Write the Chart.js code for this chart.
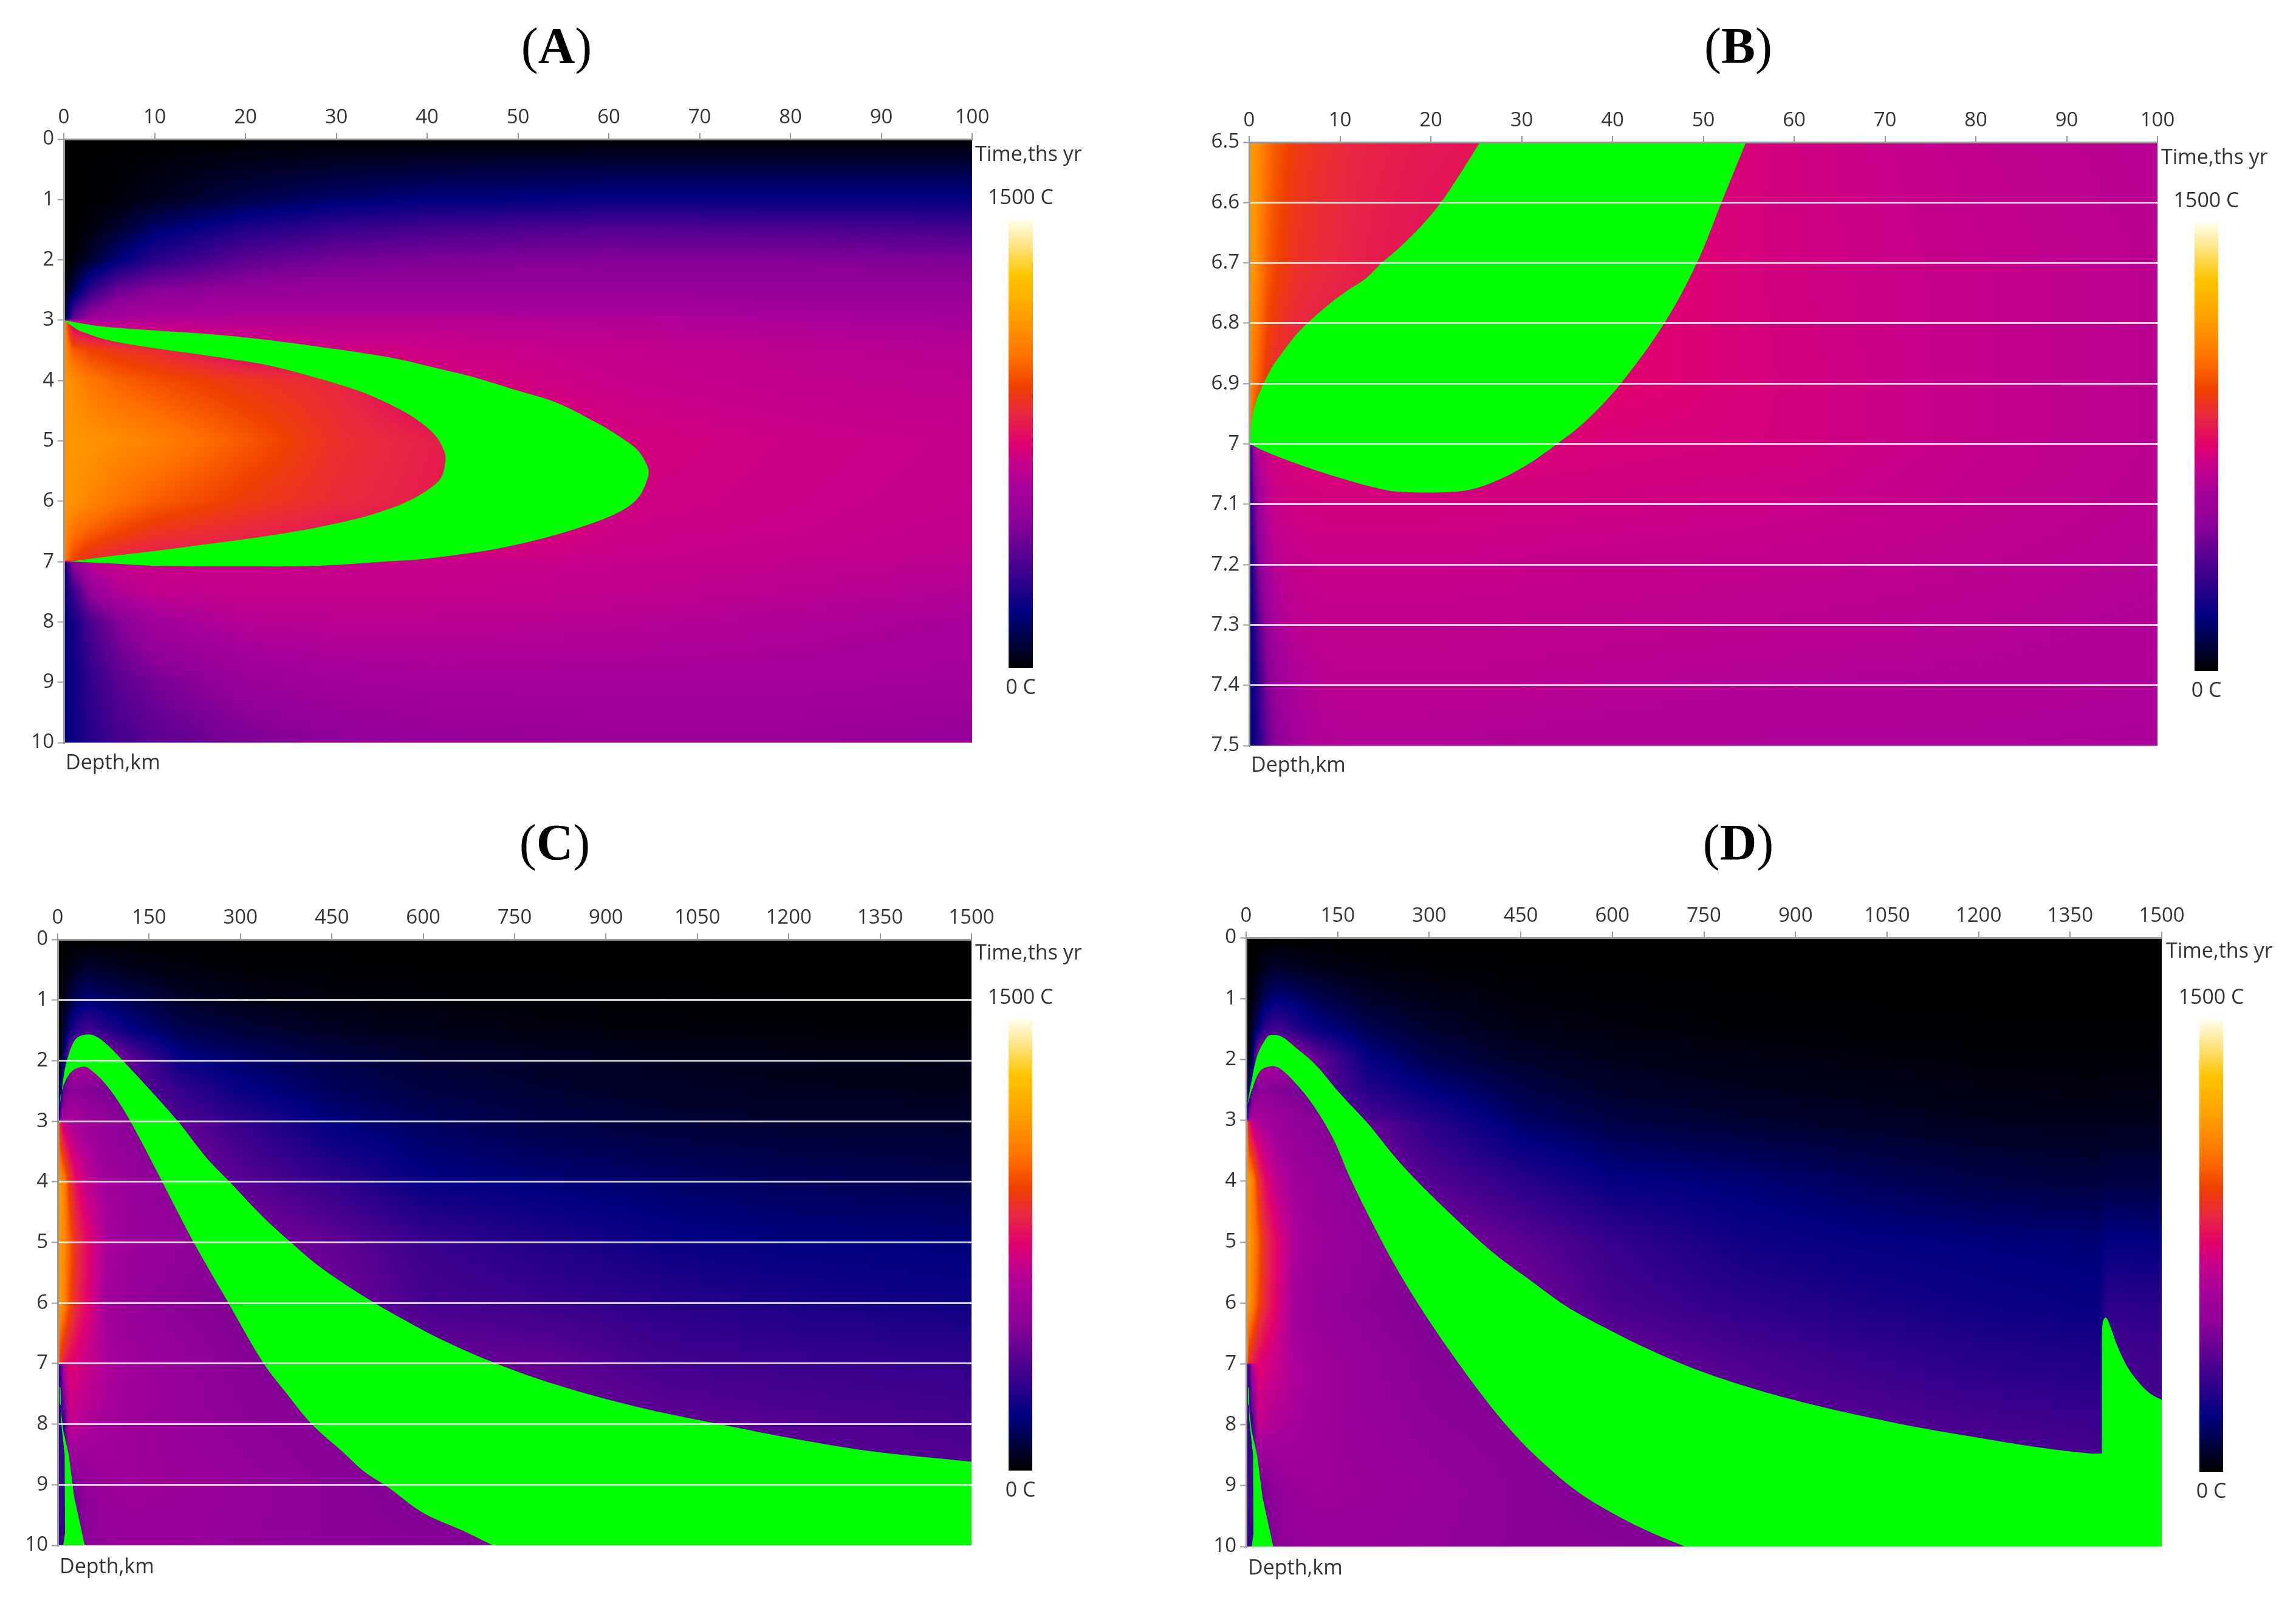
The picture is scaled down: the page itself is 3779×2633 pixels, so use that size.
<!DOCTYPE html>
<html>
<head>
<meta charset="utf-8">
<title>Temperature maps</title>
<script src="https://cdn.jsdelivr.net/npm/chart.js@4"></script>
<style>
  html, body { margin: 0; background: #fff; }
  canvas { position: absolute; }
</style>
</head>
<body>
<script>
// colour bar, value in C -> colour
const paletteValues = [0, 180, 350, 490, 600, 690, 750, 850, 940, 1040, 1155, 1310, 1500];
const paletteColors = ["#000000", "#000080", "#4b0090", "#8c0098", "#a8009a", "#c8008a", "#e0006f", "#e82840", "#f04000", "#ff7000", "#ff9800", "#ffc400", "#fffff0"];

const tempLabels = { top: "1500 C", bottom: "0 C" };
const axisLabels = { time: "Time,ths yr", depth: "Depth,km" };

const ticksKm100 = 10;
const ticksKm1500 = 150;

// ---- panel A ----
const depthsA = [0, 1, 3, 6, 10, 20, 30, 40, 60, 80, 100];
const timesA = [0, 0.5, 1, 1.5, 2, 2.5, 2.98, 3.02, 3.5, 4, 5, 6, 6.5, 6.98, 7.02, 7.5, 8, 9, 10];
const tempsA = [
  [0, 0, 0, 0, 0, 0, 0, 0, 0, 0, 0],
  [0, 0, 5, 10, 20, 50, 70, 85, 100, 100, 100],
  [0, 0, 5, 15, 40, 105, 150, 175, 190, 190, 190],
  [0, 0, 20, 70, 150, 250, 310, 340, 370, 360, 340],
  [0, 10, 70, 170, 270, 390, 440, 460, 470, 470, 460],
  [0, 100, 280, 420, 480, 520, 530, 530, 530, 530, 520],
  [0, 400, 560, 600, 620, 630, 630, 630, 620, 600, 590],
  [1150, 700, 640, 640, 640, 640, 640, 640, 630, 610, 595],
  [1150, 1000, 940, 900, 870, 740, 710, 700, 680, 660, 640],
  [1150, 1120, 1060, 1010, 970, 900, 850, 730, 690, 670, 655],
  [1150, 1150, 1140, 1120, 1090, 990, 880, 830, 720, 700, 685],
  [1150, 1140, 1100, 1050, 1000, 920, 860, 820, 710, 695, 680],
  [1120, 1050, 1000, 950, 900, 850, 800, 780, 700, 690, 670],
  [1100, 950, 870, 830, 800, 790, 770, 700, 690, 680, 660],
  [150, 500, 660, 690, 690, 690, 690, 690, 680, 670, 650],
  [180, 300, 520, 630, 670, 680, 680, 680, 670, 650, 630],
  [180, 220, 350, 470, 580, 640, 650, 650, 640, 620, 600],
  [190, 200, 290, 380, 440, 540, 580, 590, 590, 590, 580],
  [190, 210, 270, 330, 380, 450, 500, 530, 550, 550, 530]
];
const bandA = [[0, 3], [0.8, 3.02], [4, 3.1], [10, 3.17], [16, 3.23], [22, 3.32], [30, 3.48], [36.5, 3.635], [40.9, 3.79], [45.4, 3.955], [49.8, 4.16], [54.3, 4.37],
  [58.8, 4.71], [61, 4.91], [63.2, 5.16], [64.3, 5.44], [64.3, 5.61], [63.2, 5.95], [61, 6.19], [56.5, 6.45], [52.1, 6.64], [47.6, 6.79], [43.2, 6.89], [38.7, 6.97], [36.5, 6.99],
  [28, 7.07], [20, 7.08], [10, 7.07], [5, 7.03], [0.6, 7], [0.6, 7],
  [4.6, 6.92], [10.3, 6.82], [16.4, 6.7], [22.6, 6.57], [27.7, 6.44], [32.8, 6.27], [36.5, 6.09], [37.6, 6.02], [39.8, 5.84], [41.5, 5.62], [42, 5.35], [41.9, 5.18], [40.9, 4.91], [38.7, 4.63], [36.5, 4.44],
  [32.8, 4.19], [27.7, 3.95], [22.6, 3.75], [16.4, 3.6], [10.3, 3.47], [4.6, 3.32], [1.6, 3.17]];

// ---- panel B ----
const depthsB = [0, 0.5, 1, 2, 3, 5, 8, 12, 20, 30, 40, 50, 60, 80, 100];
const timesB = [6.5, 6.7, 6.9, 6.995, 7.005, 7.1, 7.2, 7.3, 7.4, 7.5];
const tempsB = [
  [1150, 1150, 1120, 1040, 990, 920, 880, 840, 810, 790, 770, 740, 710, 670, 640],
  [1150, 1150, 1100, 1000, 950, 890, 860, 830, 790, 770, 760, 735, 710, 680, 650],
  [1150, 1050, 1000, 900, 860, 830, 800, 780, 770, 760, 750, 735, 715, 680, 650],
  [1100, 950, 850, 810, 790, 770, 750, 740, 740, 740, 730, 725, 715, 680, 650],
  [130, 550, 650, 700, 720, 730, 735, 735, 735, 730, 725, 720, 715, 680, 650],
  [160, 400, 550, 650, 690, 710, 715, 715, 715, 710, 705, 700, 695, 670, 645],
  [160, 300, 470, 600, 650, 680, 690, 690, 690, 685, 680, 675, 670, 655, 635],
  [170, 250, 370, 530, 600, 650, 670, 670, 670, 665, 660, 655, 650, 640, 625],
  [170, 220, 300, 460, 550, 610, 645, 650, 650, 645, 640, 635, 630, 625, 615],
  [180, 210, 270, 400, 490, 580, 625, 630, 630, 625, 620, 615, 610, 610, 605]
];
const bandB = [[25.4, 6.5], [23.5, 6.546], [21.1, 6.6], [19, 6.638], [16.6, 6.674], [14.6, 6.7], [12.9, 6.725], [10.8, 6.746], [9, 6.766], [6.4, 6.8],
  [5, 6.822], [3.3, 6.856], [2.5, 6.873], [1.6, 6.9], [0.75, 6.93], [0.3, 6.96], [0.1, 7], [0.1, 7], [1.1, 7.008], [4, 7.026], [7.4, 7.044], [10.8, 7.06], [13.2, 7.07],
  [16.3, 7.079], [22.8, 7.079], [25.9, 7.069], [30, 7.04], [33.9, 7], [37.2, 6.96], [40.9, 6.9], [45.7, 6.8], [49.3, 6.7], [52, 6.6], [54.7, 6.5]];

// ---- panel C ----
const depthsC = [0, 5, 10, 20, 30, 50, 80, 120, 200, 300, 450, 600, 800, 1000, 1200, 1500];
const timesC = [0, 0.5, 1, 1.5, 2, 2.5, 2.98, 3.02, 4, 5, 6, 6.98, 7.02, 8, 9, 10];
const tempsC = [
  [0, 0, 0, 0, 0, 0, 0, 0, 0, 0, 0, 0, 0, 0, 0, 0],
  [0, 0, 10, 25, 50, 70, 55, 40, 22, 12, 7, 4, 2, 1, 1, 0],
  [0, 5, 25, 80, 130, 165, 140, 110, 60, 35, 22, 15, 10, 7, 5, 4],
  [0, 20, 70, 180, 280, 330, 260, 190, 115, 80, 50, 35, 22, 15, 12, 10],
  [0, 40, 130, 600, 620, 600, 560, 400, 200, 150, 100, 70, 55, 42, 35, 30],
  [0, 150, 420, 480, 490, 470, 450, 400, 300, 200, 130, 95, 70, 55, 45, 40],
  [0, 500, 600, 610, 600, 550, 510, 480, 350, 280, 170, 130, 95, 75, 65, 60],
  [1150, 800, 680, 620, 590, 550, 510, 480, 400, 300, 175, 132, 97, 77, 66, 61],
  [1150, 1150, 1100, 900, 780, 660, 570, 530, 480, 380, 290, 190, 165, 145, 125, 110],
  [1150, 1150, 1120, 1000, 880, 760, 610, 550, 510, 470, 400, 310, 250, 200, 180, 170],
  [1150, 1150, 1100, 960, 860, 750, 580, 530, 490, 460, 440, 340, 310, 270, 240, 210],
  [1100, 900, 830, 760, 730, 680, 600, 560, 520, 480, 450, 420, 400, 330, 310, 290],
  [300, 320, 640, 760, 730, 690, 620, 570, 520, 480, 450, 420, 400, 330, 310, 290],
  [270, 290, 300, 680, 650, 620, 590, 560, 530, 500, 475, 450, 430, 400, 370, 340],
  [310, 310, 310, 400, 460, 510, 550, 560, 550, 525, 490, 460, 440, 420, 400, 380],
  [300, 300, 310, 320, 420, 480, 520, 530, 530, 515, 490, 480, 460, 440, 420, 400]
];
const bandC = [[2.7, 2.79], [6.5, 2.5], [12, 2.13], [20, 1.84], [29, 1.65], [41, 1.58], [58, 1.58], [77, 1.7], [107, 2], [153, 2.5], [198, 3.01], [244, 3.6],
  [286, 4.04], [335, 4.56], [384, 5.01], [430, 5.4], [504, 5.9], [567, 6.27], [631, 6.61], [720, 7], [822, 7.36], [949, 7.71], [1076, 7.98], [1203, 8.23], [1330, 8.44], [1500, 8.62], [1500, 8.62],
  [1500, 10], [1500, 10], [714, 10], [714, 10], [663, 9.75], [599, 9.46], [542, 9.04], [504, 8.79], [468, 8.46], [418, 8.01], [373, 7.46], [335, 6.95], [278, 5.96], [221, 4.96], [168, 3.93],
  [130, 3.2], [107, 2.79], [77, 2.37], [50, 2.12], [41, 2.1], [24, 2.17], [12, 2.35], [4.6, 2.57]];
const wedgeC = [[3.2, 7.39], [4.6, 7.39], [5.5, 7.8], [9, 8.1], [18, 8.5], [27, 9.2], [44.4, 10], [9, 10], [12, 9.8], [11.4, 8.5], [7, 8.1], [5, 7.9], [5, 7.7], [3.2, 7.65]];

// ---- panel D ----
const depthsD = [0, 5, 10, 20, 30, 50, 80, 120, 200, 300, 450, 600, 800, 1000, 1200, 1398, 1410, 1500];
const timesD = [0, 0.5, 1, 1.5, 2, 2.5, 2.98, 3.02, 4, 5, 6, 6.98, 7.02, 8, 9, 10];
const tempsD = [
  [0, 0, 0, 0, 0, 0, 0, 0, 0, 0, 0, 0, 0, 0, 0, 0, 0, 0],
  [0, 0, 5, 20, 40, 60, 50, 35, 20, 10, 5, 3, 0, 0, 0, 0, 0, 0],
  [0, 5, 20, 70, 120, 175, 150, 110, 60, 35, 15, 10, 5, 3, 3, 3, 3, 3],
  [0, 20, 60, 170, 280, 330, 260, 190, 115, 65, 30, 20, 10, 8, 5, 5, 5, 5],
  [0, 40, 120, 600, 620, 600, 560, 400, 190, 110, 60, 40, 28, 20, 15, 14, 15, 15],
  [0, 150, 420, 480, 490, 470, 450, 400, 260, 180, 100, 60, 45, 35, 25, 20, 22, 22],
  [0, 500, 600, 610, 600, 550, 510, 480, 350, 260, 140, 95, 70, 55, 42, 38, 40, 40],
  [1150, 800, 680, 620, 590, 550, 510, 480, 400, 270, 145, 97, 72, 56, 43, 39, 41, 41],
  [1150, 1150, 1100, 900, 780, 660, 570, 530, 480, 370, 270, 190, 165, 130, 100, 85, 95, 95],
  [1150, 1150, 1120, 1000, 880, 760, 610, 550, 510, 470, 390, 300, 220, 190, 175, 165, 185, 180],
  [1150, 1150, 1100, 960, 860, 750, 580, 530, 490, 460, 440, 340, 280, 240, 210, 190, 280, 270],
  [1100, 900, 830, 760, 730, 680, 600, 560, 520, 480, 450, 420, 360, 310, 270, 250, 350, 320],
  [300, 320, 640, 760, 730, 690, 620, 570, 520, 480, 450, 420, 360, 310, 270, 250, 350, 320],
  [270, 290, 300, 680, 650, 620, 590, 560, 530, 500, 475, 440, 410, 380, 340, 310, 340, 340],
  [310, 310, 310, 400, 460, 510, 550, 560, 550, 525, 490, 460, 440, 420, 400, 380, 380, 380],
  [300, 300, 310, 320, 420, 480, 520, 530, 530, 515, 490, 480, 460, 440, 420, 400, 400, 400]
];
const bandD = [[2, 2.75], [9, 2.35], [18.5, 1.93], [33, 1.65], [40, 1.6], [57, 1.62], [80.5, 1.8], [114, 2.09], [152, 2.54], [200, 3.06], [247, 3.64], [295, 4.15], [352, 4.7], [409, 5.21],
  [466, 5.63], [524, 6.05], [581, 6.37], [657, 6.75], [734, 7.08], [829, 7.4], [924, 7.66], [1020, 7.88], [1115, 8.07], [1210, 8.23], [1305, 8.38], [1382, 8.47], [1403, 8.47], [1403, 8.47],
  [1403, 10], [1403, 10], [719, 10], [719, 10], [657, 9.74], [600, 9.45], [543, 9.1], [486, 8.62], [438, 8.14], [390, 7.56], [333, 6.78], [286, 6.08], [247, 5.44], [209, 4.73], [171, 3.96],
  [143, 3.31], [109, 2.74], [80, 2.38], [57, 2.16], [42, 2.11], [23, 2.19], [9, 2.51]];
const spikeD = [[1402, 8.47], [1402, 8.47], [1402, 6.52], [1402, 6.52], [1404, 6.29], [1409, 6.24], [1417, 6.42], [1427, 6.7], [1441, 7], [1457, 7.24], [1480, 7.48], [1500, 7.59], [1500, 7.59],
  [1500, 10], [1500, 10], [1402, 10], [1402, 10]];
const wedgeD = [[3.2, 7.39], [4.6, 7.39], [5.5, 7.8], [9, 8.1], [18, 8.5], [27, 9.2], [44.4, 10], [9, 10], [12, 9.8], [11.4, 8.5], [7, 8.1], [5, 7.9], [5, 7.7], [3.2, 7.65]];
const sliverD = [[1402, 6.87], [1408, 6.87], [1408, 7.68], [1402, 7.68]];

const GREEN = "#00ff00";
const TICK_GREY = "#9a9a9a";
const TEXT = "#333";
const FONT = '"Open Sans"';

function hexRgb(h) {
  return [parseInt(h.slice(1, 3), 16), parseInt(h.slice(3, 5), 16), parseInt(h.slice(5, 7), 16)];
}

// lookup table for colours, one entry per degree
const lut = [];
(function () {
  const rgb = paletteColors.map(hexRgb);
  let k = 0;
  for (let v = 0; v <= 1500; v++) {
    while (k < paletteValues.length - 2 && v > paletteValues[k + 1]) k++;
    const f = (v - paletteValues[k]) / (paletteValues[k + 1] - paletteValues[k]);
    lut.push([0, 1, 2].map((i) => rgb[k][i] + (rgb[k + 1][i] - rgb[k][i]) * f));
  }
})();

function findCell(list, v) {
  let i = 0;
  while (i < list.length - 2 && v > list[i + 1]) i++;
  const f = (v - list[i]) / (list[i + 1] - list[i]);
  return [i, Math.min(1, Math.max(0, f))];
}

// paints the temperature cells, goes through the chart's own scales pixel by pixel
const heatmapPlugin = {
  id: "heatmap",
  beforeDatasetsDraw(chart, args, opts) {
    const { ctx, chartArea, scales } = chart;
    const left = Math.round(chartArea.left);
    const top = Math.round(chartArea.top);
    const w = Math.round(chartArea.right) - left;
    const h = Math.round(chartArea.bottom) - top;
    const img = ctx.createImageData(w, h);
    const cols = [];
    for (let px = 0; px < w; px++) cols.push(findCell(opts.depths, scales.x.getValueForPixel(left + px + 0.5)));
    for (let py = 0; py < h; py++) {
      const [r, fy] = findCell(opts.times, scales.y.getValueForPixel(top + py + 0.5));
      const row0 = opts.temps[r];
      const row1 = opts.temps[r + 1];
      for (let px = 0; px < w; px++) {
        const [c, fx] = cols[px];
        const a = row0[c] + (row0[c + 1] - row0[c]) * fx;
        const b = row1[c] + (row1[c + 1] - row1[c]) * fx;
        const col = lut[Math.round(a + (b - a) * fy)];
        const o = (py * w + px) * 4;
        img.data[o] = col[0];
        img.data[o + 1] = col[1];
        img.data[o + 2] = col[2];
        img.data[o + 3] = 255;
      }
    }
    ctx.putImageData(img, left, top);
  }
};

// title, colour bar and the small labels around the plot
const extrasPlugin = {
  id: "extras",
  afterDraw(chart, args, opts) {
    const { ctx, chartArea } = chart;
    ctx.save();
    // title, letter is bold, brackets are not
    ctx.fillStyle = "#000";
    ctx.textBaseline = "middle";
    ctx.textAlign = "left";
    const reg = '84px "Liberation Serif"';
    const bold = 'bold 84px "Liberation Serif"';
    ctx.font = reg;
    const wb = ctx.measureText("(").width;
    ctx.font = bold;
    const wl = ctx.measureText(opts.letter).width;
    let tx = opts.titleX - (wb * 2 + wl) / 2;
    ctx.font = reg;
    ctx.fillText("(", tx, opts.titleY);
    ctx.font = bold;
    ctx.fillText(opts.letter, tx + wb, opts.titleY);
    ctx.font = reg;
    ctx.fillText(")", tx + wb + wl, opts.titleY);

    // colour bar
    const bar = opts.bar;
    const g = ctx.createLinearGradient(0, bar.bottom, 0, bar.top);
    paletteValues.forEach((v, i) => g.addColorStop(v / 1500, paletteColors[i]));
    ctx.fillStyle = g;
    ctx.fillRect(bar.left, bar.top, bar.right - bar.left, bar.bottom - bar.top);

    ctx.fillStyle = TEXT;
    ctx.font = "34px " + FONT;
    ctx.textAlign = "center";
    const cx = (bar.left + bar.right) / 2;
    ctx.fillText(tempLabels.top, cx, bar.top - 35);
    ctx.fillText(tempLabels.bottom, cx, bar.bottom + 33);
    ctx.textAlign = "left";
    ctx.fillText(axisLabels.time, opts.timeX, chartArea.top + opts.timeDy);
    ctx.fillText(axisLabels.depth, chartArea.left + 3, chartArea.bottom + opts.depthDy);
    ctx.restore();
  }
};

function polygon(points, color, tension) {
  return {
    data: points.map((p) => ({ x: p[0], y: p[1] })),
    borderWidth: 0,
    pointRadius: 0,
    backgroundColor: color,
    fill: "shape",
    tension: tension
  };
}

function drawPanel(p) {
  const canvas = document.createElement("canvas");
  canvas.width = p.box.w;
  canvas.height = p.box.h;
  canvas.style.left = p.box.x + "px";
  canvas.style.top = p.box.y + "px";
  document.body.appendChild(canvas);

  const xAxisH = 70;
  const yAxisW = 80;
  const labelFmt = (v) => String(+Number(v).toFixed(1));

  new Chart(canvas, {
    type: "line",
    data: { datasets: p.polys },
    plugins: [heatmapPlugin, extrasPlugin],
    options: {
      responsive: false,
      animation: false,
      events: [],
      layout: {
        padding: {
          left: p.plot.left - p.box.x - yAxisW,
          top: p.plot.top - p.box.y - xAxisH,
          right: p.box.x + p.box.w - p.plot.right,
          bottom: p.box.y + p.box.h - p.plot.bottom
        }
      },
      plugins: {
        legend: { display: false },
        tooltip: { enabled: false },
        heatmap: { depths: p.depths, times: p.times, temps: p.temps },
        extras: {
          letter: p.letter,
          titleX: p.titleX - p.box.x,
          titleY: p.titleY - p.box.y,
          timeX: p.timeX - p.box.x,
          timeDy: p.timeDy,
          depthDy: p.depthDy,
          bar: {
            left: p.bar.left - p.box.x,
            right: p.bar.right - p.box.x,
            top: p.bar.top - p.box.y,
            bottom: p.bar.bottom - p.box.y
          }
        }
      },
      scales: {
        x: {
          type: "linear",
          position: "top",
          min: 0,
          max: p.xMax,
          afterFit: (s) => { s.height = xAxisH; },
          border: { color: TICK_GREY, width: 3, z: 1 },
          grid: { drawOnChartArea: false, color: TICK_GREY, lineWidth: 2, tickLength: 10 },
          ticks: { stepSize: p.xStep, autoSkip: false, maxRotation: 0, color: TEXT, padding: 6, font: { family: FONT, size: 33 }, callback: labelFmt }
        },
        y: {
          type: "linear",
          reverse: true,
          min: p.yMin,
          max: p.yMax,
          afterFit: (s) => { s.width = yAxisW; },
          // border has to sit on the same layer as the grid or it ends up at x=0
          border: { color: TICK_GREY, width: 3, z: 1 },
          grid: {
            z: 1,
            drawOnChartArea: p.whiteLines,
            lineWidth: 3,
            tickLength: 10,
            tickColor: TICK_GREY,
            tickWidth: 2,
            color: (c) => (c.tick && (c.tick.value === p.yMin || c.tick.value === p.yMax) ? "rgba(255,255,255,0)" : "rgba(255,255,255,0.8)")
          },
          ticks: { stepSize: p.yStep, autoSkip: false, color: TEXT, padding: 6, font: { family: FONT, size: 33 }, callback: labelFmt }
        }
      }
    }
  });
}

const panels = [
  {
    letter: "A", box: { x: 0, y: 0, w: 1890, h: 1316 }, plot: { left: 105, right: 1600, top: 229, bottom: 1222 },
    bar: { left: 1660, right: 1700, top: 361, bottom: 1099 }, titleX: 916, titleY: 82, timeX: 1605, timeDy: 26, depthDy: 34,
    depths: depthsA, times: timesA, temps: tempsA, polys: [polygon(bandA, GREEN, 0.35)],
    xMax: 100, xStep: ticksKm100, yMin: 0, yMax: 10, yStep: 1, whiteLines: false
  },
  {
    letter: "B", box: { x: 1890, y: 0, w: 1889, h: 1316 }, plot: { left: 2056, right: 3551, top: 234, bottom: 1227 },
    bar: { left: 3612, right: 3651, top: 366, bottom: 1104 }, titleX: 2861, titleY: 82, timeX: 3557, timeDy: 26, depthDy: 33,
    depths: depthsB, times: timesB, temps: tempsB, polys: [polygon(bandB, GREEN, 0.35)],
    xMax: 100, xStep: ticksKm100, yMin: 6.5, yMax: 7.5, yStep: 0.1, whiteLines: true
  },
  {
    letter: "C", box: { x: 0, y: 1316, w: 1890, h: 1317 }, plot: { left: 95, right: 1599, top: 1546, bottom: 2543 },
    bar: { left: 1660, right: 1699, top: 1677, bottom: 2420 }, titleX: 913, titleY: 1393, timeX: 1605, timeDy: 23, depthDy: 36,
    depths: depthsC, times: timesC, temps: tempsC, polys: [polygon(bandC, GREEN, 0.35), polygon(wedgeC, GREEN, 0)],
    xMax: 1500, xStep: ticksKm1500, yMin: 0, yMax: 10, yStep: 1, whiteLines: true
  },
  {
    letter: "D", box: { x: 1890, y: 1316, w: 1889, h: 1317 }, plot: { left: 2051, right: 3558, top: 1543, bottom: 2545 },
    bar: { left: 3620, right: 3659, top: 1677, bottom: 2422 }, titleX: 2861, titleY: 1393, timeX: 3565, timeDy: 23, depthDy: 36,
    depths: depthsD, times: timesD, temps: tempsD, polys: [polygon(bandD, GREEN, 0.35), polygon(spikeD, GREEN, 0.35), polygon(sliverD, "#a0009a", 0), polygon(wedgeD, GREEN, 0)],
    xMax: 1500, xStep: ticksKm1500, yMin: 0, yMax: 10, yStep: 1, whiteLines: false
  }
];

panels.forEach(drawPanel);
</script>
</body>
</html>
